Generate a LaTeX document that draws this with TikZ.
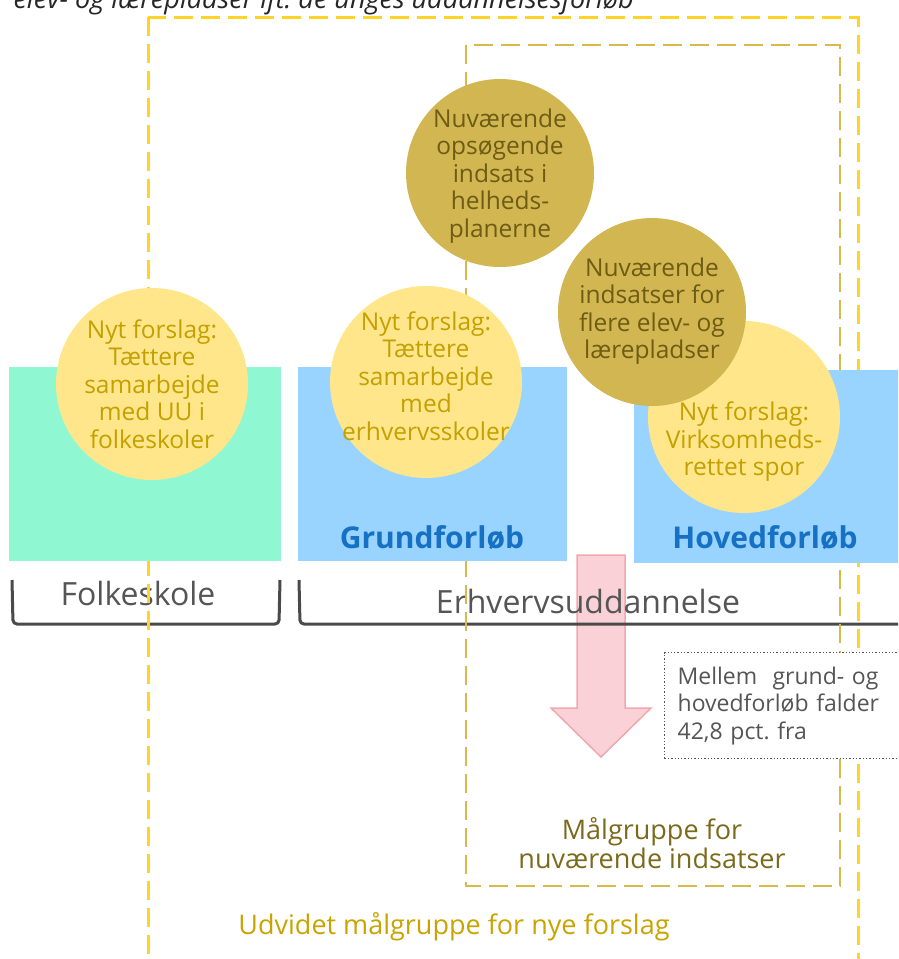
\documentclass[tikz,border=0pt]{standalone}
\usepackage{fontspec}
\setmainfont{Open Sans}
\frenchspacing
\definecolor{mint}{HTML}{8FF7D2}
\definecolor{skyblue}{HTML}{99D3FF}
\definecolor{stageblue}{HTML}{1670C4}
\definecolor{newfill}{HTML}{FFE68A}
\definecolor{newtext}{HTML}{C4A000}
\definecolor{nowfill}{HTML}{D1B651}
\definecolor{nowtext}{HTML}{6E5C14}
\definecolor{outeryellow}{HTML}{FFD426}
\definecolor{innergold}{HTML}{D8B94A}
\definecolor{bracketgray}{HTML}{4A4A4A}
\definecolor{labelgray}{HTML}{555555}
\definecolor{dropfill}{HTML}{F9D1D6}
\definecolor{dropline}{HTML}{F2A7AE}
\definecolor{groupolive}{HTML}{7C6A1C}
\definecolor{groupgold}{HTML}{C9A300}

\begin{document}
\begin{tikzpicture}
[x=1pt,y=-1pt,
  stagebox/.style={shape=rectangle,inner sep=0pt,draw=none},
  stagelabel/.style={anchor=base,text=stageblue,font=\fontsize{30}{32}\bfseries},
  newcircle/.style={shape=circle,inner sep=0pt,minimum size=192pt,fill=newfill},
  nowcircle/.style={shape=circle,inner sep=0pt,minimum size=188pt,fill=nowfill},
  newlabel/.style={align=center,inner sep=0pt,text=newtext,font=\fontsize{24.5}{27.5}\selectfont},
  nowlabel/.style={align=center,inner sep=0pt,text=nowtext,font=\fontsize{24.5}{27.5}\selectfont},
  bracketline/.style={-,line width=3pt,draw=bracketgray,rounded corners=4pt},
  bracketlabel/.style={anchor=base,text=labelgray,font=\fontsize{32}{34}\selectfont},
  outerdash/.style={draw=outeryellow,line width=3pt,dash pattern=on 19pt off 8pt},
  innerdash/.style={draw=innergold,line width=2.8pt,dash pattern=on 19pt off 8pt},
  droparrow/.style={fill=dropfill,draw=dropline,line width=1.5pt,line join=miter},
  notebox/.style={draw=labelgray,dotted,line width=1.3pt,fill=white,anchor=north west,
    minimum height=106pt,text width=230pt,inner xsep=13pt,align=left,
    text=labelgray,font=\fontsize{23}{27.5}\selectfont},
  grouplabel/.style={align=center,font=\fontsize{27}{28.5}\selectfont}]
\useasboundingbox (0,0) rectangle (898,959);
\clip (0,0) rectangle (898,959);
%% heading, cut at the top
\node (heading) at (10,8) [anchor=base west,text=black!85,font=\fontsize{27}{29}\itshape]
  {elev- og lærepladser ift. de unges uddannelsesforløb};
%% drop between grund- and hovedforloeb
\draw[droparrow] (577,555) -- (625,555) -- (625,708) -- (651,708) -- (601,757)
  -- (551,708) -- (577,708) -- cycle;
%% brackets under the stages
\draw[bracketline] (12,580) -- (13,624) -- (279,624) -- (280,580);
\draw[bracketline] (299,580) -- (300,624) -- (910,624);
\node (folkeskolelabel) at (138,605) [bracketlabel] {Folkeskole};
\node (erhvervlabel) at (588,613) [bracketlabel] {Erhvervsuddannelse};
%% target groups
\draw[outerdash] (148,17) rectangle (858,990);
\draw[innerdash] (466,45) rectangle (840,886);
%% stages
\node (folkeskole) at (145,464) [stagebox,fill=mint,minimum width=272pt,minimum height=194pt] {};
\node (grundforloeb) at (432.5,464) [stagebox,fill=skyblue,minimum width=269pt,minimum height=194pt] {};
\node (hovedforloeb) at (769,466.5) [stagebox,fill=skyblue,minimum width=270pt,minimum height=193pt] {};
\node (grundlabel) at (432,548) [stagelabel] {Grundforløb};
\node (hovedlabel) at (765,548) [stagelabel] {Hovedforløb};
%% circles
\foreach \circlename/\x/\y/\kind in {folkforslag/152/384/newcircle,
  grundforslag/426/382/newcircle, virkforslag/744/417/newcircle,
  opsoegning/500/173/nowcircle, pladsindsats/652/312/nowcircle}
{
  \node (\circlename) at (\x,\y) [\kind] {};
}
\node (folktext) at (152,384) [newlabel] {Nyt forslag:\\Tættere\\samarbejde\\med UU i\\folkeskoler};
\node (grundtext) at (426,376) [newlabel] {Nyt forslag:\\Tættere\\samarbejde\\med\\erhvervsskoler};
\node (virktext) at (744,442) [newlabel] {Nyt forslag:\\Virksomheds-\\rettet spor};
\node (opsoegtext) at (500,176) [nowlabel] {Nuværende\\opsøgende\\indsats i\\helheds-\\planerne};
\node (pladstext) at (652,311) [nowlabel] {Nuværende\\indsatser for\\flere elev- og\\lærepladser};
%% note and group names
\node (faldnote) at (664,652) [notebox] {Mellem\ \ grund- og\\hovedforløb falder\\42,8 pct. fra};
\node (nowgroup) at (652,843) [grouplabel,text=groupolive] {Målgruppe for\\nuværende indsatser};
\node (newgroup) at (454,927) [grouplabel,text=groupgold] {Udvidet målgruppe for nye forslag};
\end{tikzpicture}
\end{document}
